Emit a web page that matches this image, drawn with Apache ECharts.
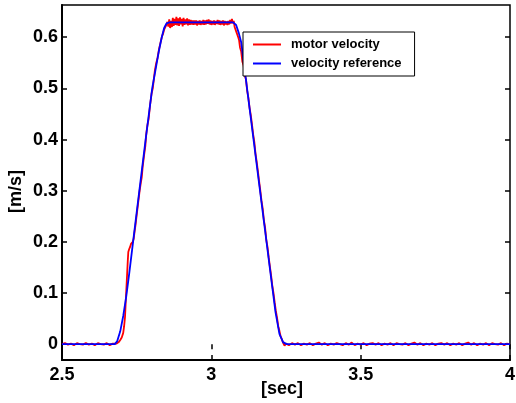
<!DOCTYPE html>
<html>
<head>
<meta charset="utf-8">
<script src="https://cdn.jsdelivr.net/npm/echarts@6/dist/echarts.min.js"></script>
<style>
  html, body { margin: 0; padding: 0; background: #fff; }
  #main { width: 516px; height: 403px; }
</style>
</head>
<body>
<div id="main"></div>
<script>
// tick labels
var xTicks = [2.5, 3, 3.5, 4];
var yTicks = [0, 0.1, 0.2, 0.3, 0.4, 0.5, 0.6];

// velocity reference (blue) [sec, m/s]
var velRef = [
  [2.5, 0], [2.677, 0], [2.685, 0.006], [2.695, 0.025], [2.705, 0.055], [2.715, 0.093],
  [2.725, 0.138], [2.739, 0.205], [2.759, 0.3], [2.78, 0.4], [2.802, 0.5], [2.824, 0.572],
  [2.834, 0.6], [2.842, 0.618], [2.85, 0.627], [2.86, 0.629], [3.073, 0.629], [3.083, 0.624],
  [3.092, 0.608], [3.1, 0.59], [3.12, 0.498], [3.14, 0.406], [3.16, 0.314], [3.18, 0.222],
  [3.2, 0.13], [3.215, 0.062], [3.228, 0.02], [3.24, 0.004], [3.252, 0], [4.0, 0]
];

// motor velocity (red) [sec, m/s]
var motorVel = [
  [2.50, 0.000], [2.51, 0.002], [2.52, -0.001], [2.53, 0.001], [2.54, -0.002], [2.55, 0.002],
  [2.56, 0.000], [2.57, -0.001], [2.58, 0.002], [2.59, -0.001], [2.60, 0.001], [2.61, -0.002],
  [2.62, 0.002], [2.63, 0.000], [2.64, -0.001], [2.65, 0.002], [2.66, -0.002], [2.67, 0.001],
  [2.675, -0.002], [2.683, 0.001], [2.69, 0.004], [2.695, 0.008], [2.70, 0.013], [2.705, 0.022],
  [2.708, 0.035], [2.711, 0.053], [2.714, 0.09], [2.717, 0.125], [2.72, 0.16], [2.722, 0.18],
  [2.725, 0.186], [2.728, 0.19], [2.731, 0.196], [2.734, 0.197], [2.737, 0.2], [2.74, 0.206],
  [2.743, 0.22], [2.746, 0.232], [2.75, 0.252], [2.755, 0.276], [2.76, 0.3], [2.764, 0.316],
  [2.767, 0.326], [2.77, 0.346], [2.775, 0.37], [2.779, 0.387], [2.782, 0.41], [2.786, 0.428],
  [2.79, 0.44], [2.795, 0.468], [2.8, 0.49], [2.804, 0.5], [2.807, 0.515], [2.811, 0.535],
  [2.815, 0.548], [2.82, 0.56], [2.825, 0.577], [2.83, 0.59], [2.835, 0.602], [2.838, 0.606],
  [2.842, 0.615], [2.846, 0.62], [2.85, 0.625], [2.853, 0.63], [2.856, 0.621], [2.859, 0.635],
  [2.862, 0.618], [2.865, 0.632], [2.868, 0.62], [2.871, 0.638], [2.874, 0.622], [2.877, 0.636],
  [2.88, 0.624], [2.883, 0.64], [2.886, 0.623], [2.889, 0.637], [2.892, 0.622], [2.895, 0.639],
  [2.898, 0.625], [2.901, 0.636], [2.904, 0.621], [2.907, 0.638], [2.91, 0.624], [2.913, 0.635],
  [2.916, 0.625], [2.919, 0.637], [2.922, 0.623], [2.925, 0.635], [2.928, 0.624], [2.931, 0.634],
  [2.934, 0.625], [2.937, 0.633], [2.94, 0.624], [2.943, 0.633], [2.946, 0.625], [2.949, 0.633],
  [2.952, 0.623], [2.955, 0.632], [2.958, 0.625], [2.961, 0.633], [2.964, 0.624], [2.967, 0.632],
  [2.97, 0.625], [2.973, 0.634], [2.976, 0.624], [2.979, 0.633], [2.982, 0.625], [2.985, 0.634],
  [2.988, 0.626], [2.991, 0.635], [2.994, 0.625], [2.997, 0.633], [3.0, 0.624], [3.003, 0.632],
  [3.006, 0.625], [3.009, 0.633], [3.012, 0.624], [3.015, 0.632], [3.018, 0.626], [3.021, 0.634],
  [3.024, 0.625], [3.027, 0.633], [3.03, 0.624], [3.033, 0.632], [3.036, 0.625], [3.039, 0.633],
  [3.042, 0.623], [3.045, 0.632], [3.048, 0.625], [3.051, 0.631], [3.054, 0.624], [3.057, 0.632],
  [3.06, 0.625], [3.063, 0.634], [3.066, 0.627], [3.069, 0.636], [3.072, 0.627], [3.075, 0.632],
  [3.078, 0.62], [3.081, 0.622], [3.084, 0.61], [3.087, 0.612], [3.09, 0.6], [3.093, 0.594],
  [3.096, 0.58], [3.1, 0.572], [3.104, 0.552], [3.108, 0.545], [3.112, 0.525], [3.116, 0.518],
  [3.12, 0.495], [3.124, 0.482], [3.128, 0.462], [3.132, 0.448], [3.136, 0.43], [3.14, 0.41],
  [3.144, 0.395], [3.148, 0.372], [3.152, 0.356], [3.156, 0.338], [3.16, 0.318], [3.164, 0.3],
  [3.168, 0.28], [3.172, 0.265], [3.176, 0.242], [3.18, 0.228], [3.184, 0.204], [3.188, 0.19],
  [3.192, 0.17], [3.196, 0.152], [3.2, 0.135], [3.204, 0.115], [3.208, 0.1], [3.212, 0.082],
  [3.216, 0.065], [3.22, 0.052], [3.224, 0.035], [3.228, 0.026], [3.232, 0.015], [3.236, 0.01],
  [3.24, 0.003], [3.245, -0.003], [3.25, 0.001], [3.26, -0.002], [3.27, 0.002], [3.28, -0.001],
  [3.29, 0.002], [3.30, -0.002], [3.31, 0.001], [3.32, -0.001], [3.33, 0.002], [3.34, -0.002],
  [3.35, 0.001], [3.36, 0.003], [3.37, -0.001], [3.38, 0.002], [3.39, -0.002], [3.40, 0.001],
  [3.41, -0.001], [3.42, 0.002], [3.43, 0.000], [3.44, -0.002], [3.45, 0.002], [3.46, -0.001],
  [3.47, 0.003], [3.48, -0.002], [3.49, 0.001], [3.50, -0.001], [3.51, 0.002], [3.52, -0.002],
  [3.53, 0.001], [3.54, 0.002], [3.55, -0.001], [3.56, 0.002], [3.57, -0.002], [3.58, 0.001],
  [3.59, -0.001], [3.60, 0.002], [3.61, -0.002], [3.62, 0.002], [3.63, 0.000], [3.64, -0.001],
  [3.65, 0.002], [3.66, -0.002], [3.67, 0.001], [3.68, 0.003], [3.69, -0.001], [3.70, 0.002],
  [3.71, -0.002], [3.72, 0.001], [3.73, -0.001], [3.74, 0.002], [3.75, -0.002], [3.76, 0.001],
  [3.77, 0.002], [3.78, -0.001], [3.79, 0.002], [3.80, -0.002], [3.81, 0.001], [3.82, -0.001],
  [3.83, 0.002], [3.84, -0.002], [3.85, 0.001], [3.86, 0.003], [3.87, -0.001], [3.88, 0.002],
  [3.89, -0.002], [3.90, 0.001], [3.91, -0.001], [3.92, 0.002], [3.93, -0.002], [3.94, 0.002],
  [3.95, 0.000], [3.96, -0.001], [3.97, 0.002], [3.98, -0.002], [3.99, 0.001], [4.00, 0.000]
];

var font = 'Liberation Sans, Arial, sans-serif';
var chart = echarts.init(document.getElementById('main'));

var option = {
  animation: false,
  backgroundColor: '#fff',
  grid: {
    left: 62, right: 6, top: 5, bottom: 43,
    outerBoundsMode: 'none',
    containLabel: false,
    show: true, borderColor: '#000', borderWidth: 1.5, backgroundColor: 'transparent'
  },
  legend: {
    left: 243, top: 32,
    orient: 'vertical',
    backgroundColor: '#fff',
    borderColor: '#000', borderWidth: 1,
    borderRadius: 0,
    padding: [5, 13, 5, 10],
    itemGap: 4,
    itemWidth: 28, itemHeight: 2,
    icon: 'rect',
    textStyle: { fontFamily: font, fontWeight: 'bold', fontSize: 13, color: '#000', lineHeight: 15, padding: [0, 0, 0, 5] },
    data: ['motor velocity', 'velocity reference'],
    z: 10
  },
  xAxis: [{
    type: 'value', min: 2.5, max: 4, interval: 0.5,
    position: 'bottom',
    name: '[sec]', nameLocation: 'middle', nameGap: 20,
    nameMoveOverlap: false,
    nameTextStyle: { fontFamily: font, fontWeight: 'bold', fontSize: 18, color: '#000', padding: [0, 8, 0, 0] },
    axisLine: { show: true, onZero: false, lineStyle: { color: '#000', width: 2 } },
    axisTick: { show: true, inside: true, length: 5, lineStyle: { color: '#000', width: 1.5 } },
    axisLabel: {
      fontFamily: font, fontWeight: 'bold', fontSize: 18, color: '#000', margin: 6,
      formatter: function (v) { return xTicks.indexOf(v) >= 0 ? String(v) : ''; }
    },
    splitLine: { show: false }
  }, {
    type: 'value', min: 2.5, max: 4, interval: 0.5,
    position: 'top',
    axisLine: { show: false },
    axisTick: { show: true, inside: true, length: 5, lineStyle: { color: '#000', width: 1.5 } },
    axisLabel: { show: false },
    splitLine: { show: false }
  }],
  yAxis: [{
    type: 'value', min: -0.031, max: 0.663,
    position: 'left',
    name: '[m/s]', nameLocation: 'middle', nameGap: 37,
    nameMoveOverlap: false,
    nameTextStyle: { fontFamily: font, fontWeight: 'bold', fontSize: 18, color: '#000', padding: [0, 18, 0, 0] },
    axisLine: { show: true, onZero: false, lineStyle: { color: '#000', width: 2 } },
    axisTick: { show: true, inside: true, length: 5, customValues: yTicks, lineStyle: { color: '#000', width: 1.5 } },
    axisLabel: {
      fontFamily: font, fontWeight: 'bold', fontSize: 18, color: '#000', margin: 4,
      customValues: yTicks,
      formatter: function (v) { return String(Math.round(v * 10) / 10); }
    },
    splitLine: { show: false }
  }, {
    type: 'value', min: -0.031, max: 0.663,
    position: 'right',
    axisLine: { show: false },
    axisTick: { show: true, inside: true, length: 5, customValues: yTicks, lineStyle: { color: '#000', width: 1.5 } },
    axisLabel: { show: false },
    splitLine: { show: false }
  }],
  series: [{
    name: 'motor velocity',
    type: 'line',
    data: motorVel,
    showSymbol: false,
    symbol: 'none',
    color: '#ff0000',
    lineStyle: { color: '#ff0000', width: 1.8 },
    z: 2
  }, {
    name: 'velocity reference',
    type: 'line',
    data: velRef,
    showSymbol: false,
    symbol: 'none',
    color: '#0000ff',
    lineStyle: { color: '#0000ff', width: 1.8 },
    z: 3
  }]
};
chart.setOption(option);
</script>
</body>
</html>
